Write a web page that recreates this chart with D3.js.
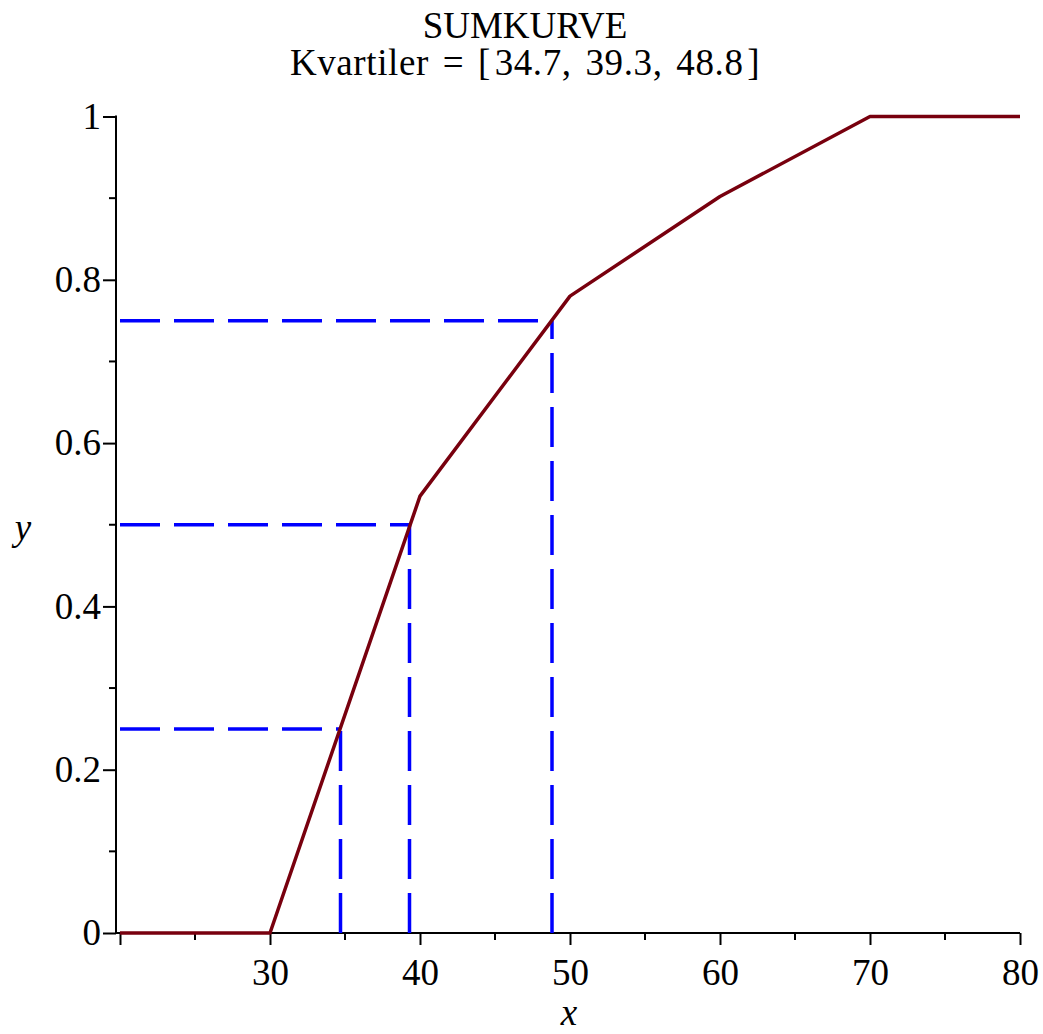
<!DOCTYPE html>
<html>
<head>
<meta charset="utf-8">
<script src="https://cdn.jsdelivr.net/npm/d3@7"></script>
<style>
  body { margin: 0; background: white; }
  svg text { font-family: "Times New Roman", Tinos, "Liberation Serif", "DejaVu Serif", serif; }
</style>
</head>
<body>
<div class="container"></div>
<script>
// Data
const xValues = [20, 30, 40, 50, 60, 70, 80]
const yValues = [0, 0, 0.535, 0.78, 0.902, 1, 1]
const quartiles = [34.7, 39.3, 48.8]
const levels = [0.25, 0.5, 0.75]
const xTicks = [20, 30, 40, 50, 60, 70, 80]
const xMinor = [25, 35, 45, 55, 65, 75]
const yTicks = [0, 0.2, 0.4, 0.6, 0.8, 1]
const yMinor = [0.1, 0.3, 0.5, 0.7, 0.9]
const titleLines = ["SUMKURVE", "Kvartiler = [\u200a34.7, 39.3, 48.8\u200a]"]

const data = xValues.map((x, i) => ({x: x, y: yValues[i]}))

const serif = "'Times New Roman', Tinos, 'Liberation Serif', 'DejaVu Serif', serif"

let outerWidth = 1043
let outerHeight = 1034

const svg = d3.select(".container")
    .append("svg")
    .attr("width", outerWidth)
    .attr("height", outerHeight)
    .attr("font-family", serif)

// Scales
const xScale = d3.scaleLinear()
    .domain([20, 80])
    .range([120, 1020])

const yScale = d3.scaleLinear()
    .domain([0, 1])
    .range([933, 116.5])

const axisX = xScale(20) - 4

// Title
svg.selectAll(".title")
    .data(titleLines)
    .enter()
    .append("text")
    .attr("class", "title")
    .text(d => d)
    .attr("x", 525)
    .attr("y", (d, i) => 38 + i * 37)
    .attr("text-anchor", "middle")
    .attr("font-size", 37)
    .attr("word-spacing", 4)
    .attr("letter-spacing", (d, i) => i === 1 ? 0.6 : 0)

// Axes
const xAxis = d3.axisBottom(xScale)
    .tickValues(xTicks)
    .tickSize(12)
    .tickPadding(14)
    .tickFormat(d => d === 20 ? "" : d)

const yAxis = d3.axisLeft(yScale)
    .tickValues(yTicks)
    .tickSize(13)
    .tickPadding(2)
    .tickFormat(d => d3.format("")(d))

let x = svg.append("g")
    .attr("transform", `translate(0, ${yScale(0)})`)
    .call(xAxis)
    .attr("font-family", serif)
    .call(g => g.select(".domain").remove())

x.selectAll(".tick line").attr("stroke-width", 2)
x.selectAll(".tick text").attr("font-size", 37).attr("fill", "black")

x.selectAll(".minor")
    .data(xMinor)
    .enter()
    .append("line")
    .attr("x1", d => xScale(d))
    .attr("x2", d => xScale(d))
    .attr("y1", 0)
    .attr("y2", 7)
    .attr("stroke", "black")
    .attr("stroke-width", 2)

x.append("line")
    .attr("x1", axisX)
    .attr("x2", xScale(80))
    .attr("stroke", "black")
    .attr("stroke-width", 2)

let y = svg.append("g")
    .attr("transform", `translate(${axisX}, 0)`)
    .call(yAxis)
    .attr("font-family", serif)
    .call(g => g.select(".domain").remove())

y.selectAll(".tick line").attr("stroke-width", 2)
y.selectAll(".tick text").attr("font-size", 37).attr("fill", "black")

y.selectAll(".minor")
    .data(yMinor)
    .enter()
    .append("line")
    .attr("x1", -7)
    .attr("x2", 0)
    .attr("y1", d => yScale(d))
    .attr("y2", d => yScale(d))
    .attr("stroke", "black")
    .attr("stroke-width", 2)

y.append("line")
    .attr("y1", yScale(1) - 1)
    .attr("y2", yScale(0))
    .attr("stroke", "black")
    .attr("stroke-width", 2)

// Axis labels
svg.append("text")
    .text("x")
    .attr("x", 569)
    .attr("y", 1025)
    .attr("text-anchor", "middle")
    .attr("font-size", 37)
    .attr("font-style", "italic")

svg.append("text")
    .text("y")
    .attr("x", 23)
    .attr("y", 540)
    .attr("text-anchor", "middle")
    .attr("font-size", 37)
    .attr("font-style", "italic")

// Quartile guides
svg.selectAll(".hguide")
    .data(quartiles)
    .enter()
    .append("line")
    .attr("x1", xScale(20))
    .attr("x2", d => xScale(d))
    .attr("y1", (d, i) => yScale(levels[i]))
    .attr("y2", (d, i) => yScale(levels[i]))
    .attr("stroke", "#0000ff")
    .attr("stroke-width", 3.5)
    .attr("stroke-dasharray", "40,14")

svg.selectAll(".vguide")
    .data(quartiles)
    .enter()
    .append("line")
    .attr("x1", d => xScale(d))
    .attr("x2", d => xScale(d))
    .attr("y1", yScale(0))
    .attr("y2", (d, i) => yScale(levels[i]))
    .attr("stroke", "#0000ff")
    .attr("stroke-width", 3.5)
    .attr("stroke-dasharray", "40,14")

// Curve
const line = d3.line()
    .x(d => xScale(d.x))
    .y(d => yScale(d.y))

svg.append("path")
    .datum(data)
    .attr("fill", "none")
    .attr("stroke", "rgb(120,0,14)")
    .attr("stroke-width", 3.5)
    .attr("stroke-linejoin", "round")
    .attr("d", line)
</script>
</body>
</html>
